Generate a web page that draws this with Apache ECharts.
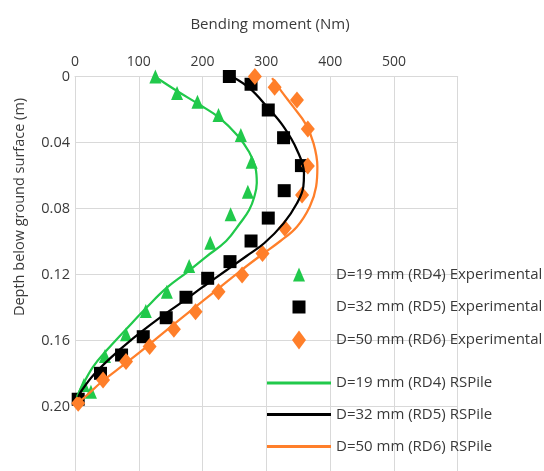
<!DOCTYPE html>
<html><head><meta charset="utf-8">
<style>html,body{margin:0;padding:0;background:#fff}#c{width:544px;height:471px}</style>
<script src="https://cdn.jsdelivr.net/npm/echarts@6/dist/echarts.min.js"></script>
</head><body><div id="c"></div><script>
// ---- data ----
const xTickLabels = ['0', '100', '200', '300', '400', '500', ''];
const yTickLabels = ['0', '0.04', '0.08', '0.12', '0.16', '0.20', ''];
const xTitle = 'Bending moment (Nm)';
const yTitle = 'Depth below ground surface (m)';
const seriesNames = [
  'D=19 mm (RD4) Experimental',
  'D=32 mm (RD5) Experimental',
  'D=50 mm (RD6) Experimental',
  'D=19 mm (RD4) RSPile',
  'D=32 mm (RD5) RSPile',
  'D=50 mm (RD6) RSPile'
];
// [bending moment, depth]
const rd4Exp = [[126,0],[160,0.010],[192,0.0153],[225,0.0233],[260,0.0355],[277,0.0516],[271,0.0698],[244,0.0835],[212,0.1007],[179,0.1148],[144,0.1304],[111,0.1421],[80,0.1562],[47,0.1694],[14,0.187],[25,0.191]];
const rd5Exp = [[242,0],[276,0.0047],[303,0.0203],[327,0.0371],[355,0.054],[328,0.0692],[303,0.0858],[276,0.0997],[243,0.1122],[208,0.1223],[174,0.1338],[143,0.1462],[107,0.1577],[73,0.1688],[40,0.1799],[5,0.1956]];
const rd6Exp = [[282,0],[313,0.0065],[348,0.0142],[365,0.0318],[365,0.0542],[356,0.0718],[329,0.092],[294,0.1072],[262,0.1203],[225,0.1304],[189,0.1425],[155,0.1532],[117,0.1637],[80,0.1728],[44,0.1839],[5,0.198]];
const rd4Pile = [[125,0],[160,0.0088],[196,0.0173],[227,0.0252],[254,0.0355],[273,0.0458],[283,0.0555],[285,0.0645],[281,0.073],[273,0.0809],[259,0.0888],[237,0.0997],[205,0.1094],[176,0.1185],[144,0.128],[113,0.1397],[82,0.1524],[50,0.1658],[28,0.1761],[8,0.19],[3,0.1942]];
const rd5Pile = [[246,0],[274,0.0072],[301,0.0183],[327,0.0304],[348,0.0445],[359,0.0587],[358,0.0668],[348,0.0768],[327,0.089],[297,0.1009],[269,0.1088],[238,0.1173],[201,0.1274],[165,0.1375],[128,0.1476],[91,0.1587],[55,0.1708],[29,0.1809],[11,0.19],[5,0.1942]];
const rd6Pile = [[309,0.001],[324,0.0092],[342,0.0183],[361,0.0284],[374,0.0405],[380,0.0547],[378,0.0668],[368,0.0789],[348,0.091],[322,0.0997],[290,0.1088],[257,0.1185],[222,0.1294],[186,0.1405],[149,0.152],[112,0.1638],[76,0.1748],[42,0.185],[16,0.1941],[6,0.1973]];

// ---- styling ----
const GREEN = '#21C94B', BLACK = '#000000', ORANGE = '#FF7F2A';
const FONT = "'Segoe UI','Open Sans',sans-serif";
const TXT = '#3A3A3A';
const GRID = '#D9D9D9';

const chart = echarts.init(document.getElementById('c'), null, {renderer: 'canvas'});

const legendRows = [274, 306, 340, 377, 408.5, 440.5];
const legendIcons = [
  {icon: 'path://M6,0L12,14L0,14Z', w: 12, h: 14},
  {icon: 'path://M0,0H13V13H0Z', w: 13, h: 13},
  {icon: 'path://M7,0L14,9.5L7,19L0,9.5Z', w: 14, h: 19},
  {icon: 'rect', w: 64, h: 3},
  {icon: 'rect', w: 64, h: 3},
  {icon: 'rect', w: 64, h: 3}
];
const legends = seriesNames.map((n, i) => ({
  // legend box is placed by its content bounds, so offset by the centred icon inset
  left: 267 + (64 - legendIcons[i].w) / 2, top: legendRows[i] - legendIcons[i].h / 2,
  padding: 0,
  itemWidth: 64, itemHeight: legendIcons[i].h, itemGap: 0,
  symbolKeepAspect: true,
  data: [{name: n, icon: legendIcons[i].icon}],
  selectedMode: false,
  textStyle: {fontFamily: FONT, fontSize: 15, color: TXT}
}));

const lineSeries = (name, data, color) => ({
  name, type: 'line', data, showSymbol: false, symbol: 'none',
  smooth: 0.4,
  lineStyle: {color, width: 2.25}, itemStyle: {color},
  animation: false, z: 3
});
const scatterSeries = (name, data, color, symbol, size) => ({
  name, type: 'scatter', data, symbol, symbolSize: size,
  itemStyle: {color, opacity: 1}, animation: false, z: 2
});

chart.setOption({
  animation: false,
  backgroundColor: '#fff',
  grid: {left: 75, top: 76.5, width: 382.7, height: 396, outerBoundsMode: 'none', containLabel: false},
  legend: legends,
  xAxis: {
    type: 'value', position: 'top', min: 0, max: 600, interval: 100,
    axisLine: {show: true, lineStyle: {color: GRID}},
    axisTick: {show: false},
    splitLine: {show: true, lineStyle: {color: GRID, width: 1}},
    axisLabel: {fontFamily: FONT, fontSize: 14, color: TXT, margin: 7,
      formatter: v => xTickLabels[Math.round(v / 100)] ?? ''}
  },
  yAxis: {
    type: 'value', inverse: true, min: 0, max: 0.24, interval: 0.04,
    axisLine: {show: true, lineStyle: {color: GRID}},
    axisTick: {show: false},
    splitLine: {show: true, lineStyle: {color: GRID, width: 1}},
    axisLabel: {fontFamily: FONT, fontSize: 14.5, color: TXT, margin: 5,
      formatter: v => yTickLabels[Math.round(v / 0.04)] ?? ''}
  },
  graphic: [
    {type: 'text', x: 270, y: 24.5, style: {text: xTitle, fontFamily: FONT, fontSize: 15, fill: TXT, align: 'center', verticalAlign: 'middle'}},
    {type: 'text', x: 20, y: 207, rotation: Math.PI / 2, style: {text: yTitle, fontFamily: FONT, fontSize: 14.5, fill: TXT, align: 'center', verticalAlign: 'middle'}}
  ],
  series: [
    scatterSeries(seriesNames[0], rd4Exp, GREEN, 'triangle', [12, 14]),
    scatterSeries(seriesNames[1], rd5Exp, BLACK, 'rect', 13),
    scatterSeries(seriesNames[2], rd6Exp, ORANGE, 'diamond', [14, 17]),
    lineSeries(seriesNames[3], rd4Pile, GREEN),
    lineSeries(seriesNames[4], rd5Pile, BLACK),
    lineSeries(seriesNames[5], rd6Pile, ORANGE)
  ]
});
</script></body></html>
